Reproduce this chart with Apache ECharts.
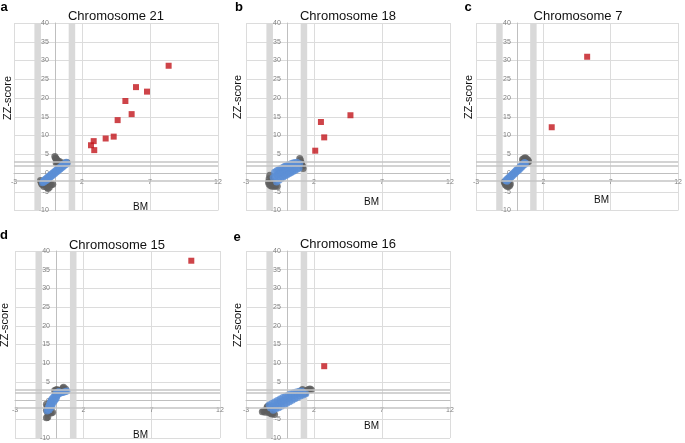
<!DOCTYPE html>
<html>
<head>
<meta charset="utf-8">
<script src="https://cdn.jsdelivr.net/npm/echarts@6/dist/echarts.min.js"></script>
<style>html,body{margin:0;padding:0;background:#fff}#c{width:685px;height:443px}</style>
</head>
<body>
<div id="c"></div>
<script>
// ---------- data ----------
const panelLetters = ['a', 'b', 'c', 'd', 'e'];
const panelTitles = ['Chromosome 21', 'Chromosome 18', 'Chromosome 7', 'Chromosome 15', 'Chromosome 16'];
const xAxisName = 'BM';
const yAxisName = 'ZZ-score';
const xMin = -3, xMax = 12, xStep = 5;
const yMin = -10, yMax = 40, yStep = 5;
const bmThresholdBands = [[-1.5, -1.02], [1.02, 1.5]];
const zzLines = [3, 2, -2];

// Panel a (Chromosome 21)
const a_blue = [[-0.9,-2.6],[-0.85,-2.2],[-0.8,-2.4],[-0.75,-1.8],[-0.7,-2.1],[-0.65,-1.5],[-0.6,-1.9],[-0.55,-1.2],[-0.5,-1.6],[-0.45,-0.9],[-0.4,-1.3],[-0.35,-0.6],[-0.3,-1.0],[-0.25,-0.3],[-0.2,-0.7],[-0.15,0.0],[-0.1,-0.4],[-0.05,0.3],[0,-0.1],[0.05,0.6],[0.1,0.2],[0.15,0.9],[0.2,0.5],[0.25,1.2],[0.3,0.8],[0.35,1.5],[0.4,1.1],[0.45,1.8],[0.5,1.4],[0.55,2.1],[0.6,1.7],[0.65,2.4],[0.7,2.0],[0.75,2.6],[0.8,2.3],[0.85,2.9],[0.9,2.5]];
const a_gray = [[0.0,4.4],[0.05,4.0],[0.1,3.8],[0.15,3.5],[0.2,3.3],[0.1,2.7],[0.2,2.6],[0.3,2.7],[0.4,2.6],[0.5,2.7],[0.6,2.6],[0.7,2.7],[0.8,2.6],[0.9,2.8],[0.25,3.0],[0.35,3.1],[-1.05,-2.0],[-1.0,-2.5],[-0.95,-3.0],[-0.85,-3.1],[-0.75,-3.0],[-0.65,-3.1],[-0.55,-3.0],[-0.45,-3.1],[-0.35,-3.0],[-0.25,-3.1],[-0.15,-3.0],[-0.8,-3.6],[-0.6,-3.7],[-0.5,-4.1],[-0.4,-3.8],[-0.9,-2.7]];
const a_red = [[8.37,28.6],[5.97,22.9],[6.78,21.7],[5.19,19.2],[5.65,15.7],[4.62,14.1],[4.33,9.7],[3.74,9.2],[2.86,8.5],[2.66,7.4],[2.9,6.1]];

// Panel b (Chromosome 18)
const b_blue = [[-0.9,0.2],[-0.75,0.6],[-0.6,0.9],[-0.45,1.2],[-0.3,1.5],[-0.15,1.8],[0,2.0],[0.15,2.3],[0.3,2.5],[0.45,2.7],[0.6,2.8],[0.75,2.9],[-1.0,-1.2],[-0.85,-0.9],[-0.7,-0.5],[-0.55,-0.2],[-0.4,0.1],[-0.25,0.5],[-0.1,0.8],[0.05,1.1],[0.2,1.4],[0.35,1.7],[0.5,1.9],[0.65,2.1],[0.8,2.3],[0.95,2.5],[-0.75,-2.4],[-0.6,-2.0],[-0.45,-1.6],[-0.3,-1.2],[-0.15,-0.8],[0,-0.5],[0.15,-0.2],[0.3,0.1],[0.45,0.4],[0.6,0.7],[0.75,1.0],[0.9,1.3]];
const b_gray = [[-1.35,-2.4],[-1.3,-1.5],[-1.25,-0.6],[-1.3,-3.0],[-1.2,-3.3],[-1.1,-3.5],[-1.0,-3.1],[-0.9,-3.6],[-0.8,-3.3],[-0.7,-3.5],[-1.15,-2.0],[-1.05,-2.6],[0.95,3.9],[1.0,3.4],[1.05,2.8],[1.1,2.3],[1.15,1.8],[1.2,1.2],[0.9,2.6],[1.0,2.0]];
const b_red = [[4.68,15.4],[2.51,13.6],[2.75,9.5],[2.09,5.95]];

// Panel c (Chromosome 7)
const c_blue = [[-0.8,-2.0],[-0.7,-1.6],[-0.6,-1.3],[-0.5,-0.9],[-0.4,-0.6],[-0.3,-0.3],[-0.2,0.1],[-0.1,0.4],[0,0.8],[0.1,1.1],[0.2,1.4],[0.3,1.8],[0.4,2.1],[0.5,2.5],[0.6,2.8],[-0.7,-2.2],[-0.6,-1.8],[-0.5,-1.5],[-0.4,-1.1],[-0.3,-0.8],[-0.2,-0.4],[-0.1,-0.1],[0,0.3],[0.1,0.6],[0.2,0.9],[0.3,1.3],[0.4,1.6],[0.5,2.0],[0.6,2.3],[0.7,2.6]];
const c_gray = [[0.45,3.6],[0.55,3.9],[0.65,4.1],[0.75,3.8],[0.85,3.5],[0.9,3.1],[0.6,3.2],[0.7,3.0],[0.8,2.8],[0.5,3.0],[-0.9,-2.4],[-0.85,-2.8],[-0.8,-3.2],[-0.7,-3.5],[-0.6,-3.6],[-0.5,-3.3],[-0.45,-2.9],[-0.75,-2.6],[-0.65,-3.0],[-0.55,-2.6]];
const c_red = [[5.25,31.0],[2.62,12.2]];

// Panel d (Chromosome 15)
const d_blue = [[-0.65,-2.8],[-0.6,-2.3],[-0.55,-1.8],[-0.5,-1.3],[-0.45,-0.8],[-0.4,-0.4],[-0.35,0.0],[-0.3,0.4],[-0.2,0.8],[-0.1,1.2],[-0.05,1.6],[0,2.0],[-0.3,-1.0],[-0.2,-0.5],[-0.1,0.0],[0,0.5],[0.05,1.0],[0.1,1.5],[0.2,1.8],[0.3,2.0],[0.4,2.1],[0.5,2.2],[0.6,2.3],[0.7,2.4],[0.8,2.6],[-0.5,-2.5],[-0.4,-2.0],[-0.3,-1.6],[0.1,2.2],[0.2,2.4]];
const d_gray = [[-0.1,2.7],[0,2.8],[0.1,2.7],[0.2,2.8],[0.3,2.7],[0.4,2.8],[0.5,3.3],[0.55,3.6],[0.6,3.0],[0.7,3.1],[0.05,3.0],[-0.7,-1.0],[-0.65,-1.6],[-0.6,-2.2],[-0.7,-2.6],[-0.55,-3.0],[-0.45,-3.2],[-0.35,-3.3],[-0.25,-3.1],[-0.6,-3.4],[-0.7,-4.6],[-0.6,-4.4],[-0.4,-0.3]];
const d_red = [[9.9,37.4]];

// Panel e (Chromosome 16)
const e_blue = [[-1.3,-1.2],[-1.1,-0.8],[-0.9,-0.4],[-0.7,0.0],[-0.5,0.4],[-0.3,0.8],[-0.1,1.1],[0.1,1.5],[0.3,1.8],[0.5,2.1],[0.7,2.3],[0.9,2.5],[1.1,2.6],[-1.2,-2.0],[-1.0,-1.6],[-0.8,-1.2],[-0.6,-0.8],[-0.4,-0.4],[-0.2,0.0],[0,0.4],[0.2,0.8],[0.4,1.2],[0.6,1.5],[0.8,1.8],[1.0,2.0],[1.2,2.2],[-1.0,-2.6],[-0.8,-2.2],[-0.6,-1.9],[-0.4,-1.5],[-0.2,-1.1],[0,-0.7],[0.2,-0.3],[0.4,0.1],[0.6,0.5],[0.8,0.9],[1.0,1.2],[1.2,1.5],[1.4,1.8]];
const e_gray = [[-1.8,-3.0],[-1.7,-2.8],[-1.6,-3.1],[-1.5,-2.5],[-1.45,-1.8],[-1.4,-1.5],[-1.35,-3.2],[-1.2,-3.4],[-1.1,-3.6],[-1.0,-3.3],[-1.25,-2.6],[-0.9,-3.7],[0.9,2.0],[1.0,2.4],[1.1,2.7],[1.2,1.8],[1.3,2.3],[1.4,2.6],[1.5,2.8],[1.6,3.0],[1.7,3.1],[1.8,2.9],[1.35,2.0],[1.15,3.0]];
const e_red = [[2.75,9.2]];

const blueSets = [a_blue, b_blue, c_blue, d_blue, e_blue];
const graySets = [a_gray, b_gray, c_gray, d_gray, e_gray];
const redSets = [a_red, b_red, c_red, d_red, e_red];

// ---------- layout ----------
const boxes = [
  {left:14, top:23, width:204, height:187.5},
  {left:246, top:23, width:204, height:187.5},
  {left:476, top:23, width:204, height:187.5},
  {left:15, top:251, width:205, height:187},
  {left:246, top:251, width:204, height:187}
];
const letterPos = [[4,7],[239,7],[468,7],[4,235],[237,237]];
const titlePos = [[116,16],[348,16],[578,16],[117,245],[348,244]];
const zzPos = [[7.5,98],[237.5,97],[469,97],[5,325],[237.5,325]];
const bmPos = [[140.5,207],[371.5,202],[601.5,200],[140.5,435],[371.5,426]];

const grids = [], xAxes = [], yAxes = [], series = [], graphics = [];
const font = '"Liberation Sans", Arial, sans-serif';
boxes.forEach((b, i) => {
  grids.push(Object.assign({containLabel:false}, b));
  // axes cross at 0 (Excel style): shift the axes inward by the pixel distance to zero
  const xOff = -(0 - yMin) / (yMax - yMin) * b.height;
  const yOff = -(0 - xMin) / (xMax - xMin) * b.width;
  xAxes.push({
    type:'value', gridIndex:i, min:xMin, max:xMax, interval:xStep,
    position:'bottom', offset:xOff,
    axisLine:{show:true, onZero:false, lineStyle:{color:'#bfbfbf', width:1}},
    axisTick:{show:false},
    axisLabel:{fontSize:7, color:'#808080', margin:6, fontFamily:font},
    splitLine:{show:true, lineStyle:{color:'#dcdcdc', width:1}}
  });
  yAxes.push({
    type:'value', gridIndex:i, min:yMin, max:yMax, interval:yStep,
    position:'left', offset:yOff,
    axisLine:{show:true, onZero:false, lineStyle:{color:'#bfbfbf', width:1}},
    axisTick:{show:false},
    axisLabel:{fontSize:7, color:'#808080', margin:6, fontFamily:font},
    splitLine:{show:true, lineStyle:{color:'#dcdcdc', width:1}}
  });
  series.push({
    type:'scatter', xAxisIndex:i, yAxisIndex:i, data:[], z:1, silent:true,
    markArea:{silent:true, itemStyle:{color:'#d9d9d9'},
      data: bmThresholdBands.map(r => [{xAxis:r[0], yAxis:yMin}, {xAxis:r[1], yAxis:yMax}])},
    markLine:{silent:true, symbol:['none','none'], label:{show:false},
      lineStyle:{color:'#c4c4c4', type:'solid', width:1.5},
      data: zzLines.map(v => ({yAxis:v}))}
  });
  series.push({type:'scatter', xAxisIndex:i, yAxisIndex:i, data:graySets[i], symbol:'circle', symbolSize:7,
    itemStyle:{color:'#5e5e5e'}, z:3});
  series.push({type:'scatter', xAxisIndex:i, yAxisIndex:i, data:blueSets[i], symbol:'circle', symbolSize:7,
    itemStyle:{color:'#5b8fd6'}, z:4});
  series.push({type:'scatter', xAxisIndex:i, yAxisIndex:i, data:redSets[i], symbol:'rect', symbolSize:6,
    itemStyle:{color:'#c2151c'}, z:5});

  graphics.push({type:'text', x:letterPos[i][0], y:letterPos[i][1],
    style:{text:panelLetters[i], font:'bold 13px '+font, fill:'#000', textAlign:'center', textVerticalAlign:'middle'}});
  graphics.push({type:'text', x:titlePos[i][0], y:titlePos[i][1],
    style:{text:panelTitles[i], font:'13px '+font, fill:'#111', textAlign:'center', textVerticalAlign:'middle'}});
  graphics.push({type:'text', x:zzPos[i][0], y:zzPos[i][1], rotation:Math.PI/2,
    style:{text:yAxisName, font:'11px '+font, fill:'#111', textAlign:'center', textVerticalAlign:'middle'}});
  graphics.push({type:'text', x:bmPos[i][0], y:bmPos[i][1],
    style:{text:xAxisName, font:'10px '+font, fill:'#111', textAlign:'center', textVerticalAlign:'middle'}});
});

const chart = echarts.init(document.getElementById('c'), null, {renderer:'canvas'});
chart.setOption({
  animation:false,
  backgroundColor:'#ffffff',
  grid:grids, xAxis:xAxes, yAxis:yAxes, series:series,
  graphic:graphics
});
</script>
</body>
</html>
